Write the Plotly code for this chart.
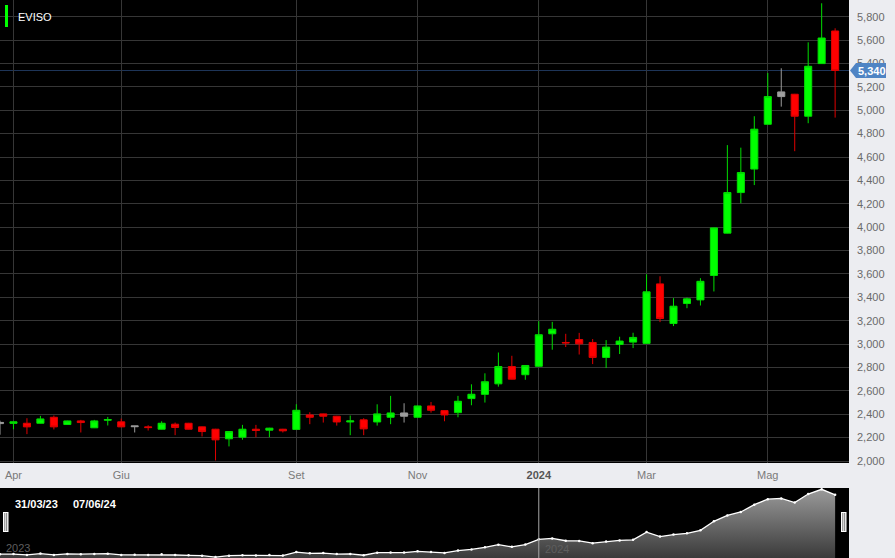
import plotly.graph_objects as go
import pandas as pd

# ---------------- data (weekly candles, Friday dates) ----------------
dates = pd.date_range("2023-03-31", periods=63, freq="7D")

opens = [2320, 2322, 2323, 2323, 2374, 2312, 2343, 2284, 2349, 2335,
         2301, 2292, 2272, 2315, 2323, 2292, 2272, 2190, 2204, 2272,
         2264, 2272, 2270, 2394, 2403, 2383, 2334, 2352, 2334, 2374,
         2383, 2374, 2471, 2431, 2414, 2534, 2570, 2660, 2808, 2738,
         2810, 3088, 3014, 3039, 3014, 2886, 2997, 3017, 3006, 3515,
         3176, 3347, 3378, 3587, 3949, 4296, 4497, 4880, 5117, 5137,
         4949, 5399, 5678]
highs = [2345, 2336, 2366, 2386, 2389, 2345, 2352, 2352, 2377, 2363,
         2301, 2306, 2340, 2329, 2326, 2295, 2275, 2255, 2309, 2309,
         2284, 2275, 2486, 2417, 2405, 2386, 2389, 2366, 2485, 2557,
         2494, 2474, 2505, 2434, 2557, 2656, 2750, 2928, 2900, 2820,
         3196, 3190, 3088, 3096, 3043, 3034, 3063, 3097, 3597, 3580,
         3393, 3398, 3564, 3996, 4702, 4680, 4949, 5319, 5359, 5140,
         5581, 5915, 5701]
lows = [2225, 2272, 2230, 2321, 2270, 2310, 2244, 2282, 2304, 2290,
        2244, 2261, 2270, 2221, 2270, 2210, 2005, 2125, 2182, 2204,
        2204, 2244, 2265, 2315, 2329, 2303, 2221, 2221, 2303, 2315,
        2329, 2371, 2414, 2340, 2374, 2477, 2500, 2636, 2698, 2695,
        2806, 2952, 2975, 2911, 2829, 2795, 2915, 2966, 3000, 3188,
        3154, 3307, 3330, 3450, 3947, 4205, 4360, 4878, 5031, 4650,
        4889, 5397, 4937]
closes = [2330, 2335, 2292, 2360, 2292, 2343, 2329, 2343, 2354, 2292,
          2294, 2286, 2323, 2287, 2272, 2252, 2181, 2252, 2272, 2261,
          2281, 2258, 2434, 2374, 2383, 2334, 2343, 2275, 2403, 2411,
          2411, 2471, 2434, 2394, 2511, 2571, 2678, 2808, 2700, 2817,
          3080, 3127, 3010, 3002, 2886, 2974, 3026, 3057, 3447, 3219,
          3324, 3387, 3537, 3994, 4296, 4467, 4838, 5117, 5157, 4949,
          5376, 5618, 5340]
gray_idx = [0, 10, 30, 58]          # unchanged weeks drawn in grey

tick_dates = ["2023-04-07", "2023-06-02", "2023-09-01", "2023-11-03",
              "2024-01-05", "2024-03-01", "2024-05-03"]
tick_text = ["Apr", "Giu", "Set", "Nov",
             "<span style='color:#555'><b>2024</b></span>", "Mar", "Mag"]
y_ticks = list(range(2000, 5801, 200))
last_price = 5340
title = "EVISO"
nav_start_label = "31/03/23"
nav_end_label = "07/06/24"

# ---------------- geometry helpers ----------------
W, H = 895, 558
PW = 849            # plot width in px
MAIN_BOTTOM = 463   # px
NAV_TOP = 488       # px


def px(x):
    return x / PW


def py(y):
    return 1 - y / H


FONT = "Liberation Sans, Arial, Helvetica, sans-serif"

col_idx = [i for i in range(len(dates)) if i not in gray_idx]

fig = go.Figure()

fig.add_trace(go.Candlestick(
    x=[dates[i] for i in col_idx],
    open=[opens[i] for i in col_idx],
    high=[highs[i] for i in col_idx],
    low=[lows[i] for i in col_idx],
    close=[closes[i] for i in col_idx],
    increasing=dict(fillcolor="#00FF00", line=dict(color="#00DD00", width=1)),
    decreasing=dict(fillcolor="#FF0000", line=dict(color="#E00000", width=1)),
    whiskerwidth=0,
    xaxis="x", yaxis="y", name=title, hoverinfo="skip",
))
fig.add_trace(go.Candlestick(
    x=[dates[i] for i in gray_idx],
    open=[opens[i] for i in gray_idx],
    high=[highs[i] for i in gray_idx],
    low=[lows[i] for i in gray_idx],
    close=[closes[i] for i in gray_idx],
    increasing=dict(fillcolor="#A0A0A0", line=dict(color="#9A9A9A", width=1)),
    decreasing=dict(fillcolor="#A0A0A0", line=dict(color="#9A9A9A", width=1)),
    whiskerwidth=0,
    xaxis="x", yaxis="y", name=title, hoverinfo="skip",
))

# navigator
NAV_RANGE = [2135, 5684]
fig.add_trace(go.Scatter(
    x=dates, y=closes, mode="lines+markers",
    line=dict(color="#FFFFFF", width=1.3),
    marker=dict(size=2.5, color="#FFFFFF"),
    fill="tozeroy",
    fillgradient=dict(type="vertical", start=NAV_RANGE[0], stop=NAV_RANGE[1],
                      colorscale=[[0, "#3A3A3A"], [1, "#9C9C9C"]]),
    xaxis="x2", yaxis="y2", hoverinfo="skip",
))

x_range = ["2023-03-31", "2024-06-14 05:00"]

fig.update_layout(
    width=W, height=H,
    autosize=False,
    margin=dict(l=0, r=W - PW, t=0, b=0, pad=0, autoexpand=False),
    paper_bgcolor="#ECEDF1",
    plot_bgcolor="#000000",
    showlegend=False,
    boxgap=0.25,
    font=dict(family=FONT),
    xaxis=dict(
        domain=[0, 1], anchor="y", type="date", range=x_range,
        rangeslider=dict(visible=False), automargin=False,
        tickmode="array", tickvals=tick_dates, ticktext=tick_text,
        showgrid=True, gridcolor="#363636", gridwidth=1,
        ticks="", ticklabelstandoff=4,
        tickfont=dict(size=11, color="#7A7A7A", family=FONT),
        zeroline=False, showline=False,
    ),
    yaxis=dict(
        domain=[py(MAIN_BOTTOM), 1], anchor="x", range=[1983, 5943],
        side="right", tickmode="array", tickvals=y_ticks, tickformat=",d",
        showgrid=True, gridcolor="#363636", gridwidth=1, automargin=False,
        ticks="", ticklabelstandoff=7,
        tickfont=dict(size=11, color="#6A6A6A", family=FONT),
        zeroline=False, showline=False,
    ),
    xaxis2=dict(domain=[0, 1], anchor="y2", type="date", range=x_range,
                showgrid=False, showticklabels=False, ticks="", automargin=False,
                zeroline=False, showline=False),
    yaxis2=dict(domain=[0, py(NAV_TOP)], anchor="x2", range=NAV_RANGE,
                showgrid=False, showticklabels=False, ticks="", automargin=False,
                zeroline=False, showline=False),
)

shapes = []
annotations = []

# last price line + marker
shapes.append(dict(type="line", xref="paper", yref="y", x0=0, x1=1,
                   y0=last_price, y1=last_price, layer="between",
                   line=dict(color="#1E3558", width=1)))
shapes.append(dict(type="path", xref="paper", yref="y",
                   xsizemode="pixel", ysizemode="pixel",
                   xanchor=1, yanchor=last_price,
                   path="M 1 0 L 7 -7.5 L 37 -7.5 L 37 7.5 L 7 7.5 Z",
                   fillcolor="#4F84C4", line=dict(width=0), layer="above"))
annotations.append(dict(xref="paper", yref="y", x=px(871.5), y=last_price,
                        text="<b>%s</b>" % f"{last_price:,}", showarrow=False,
                        xanchor="center", yanchor="middle",
                        font=dict(size=11, color="#FFFFFF", family=FONT)))

# title marker
shapes.append(dict(type="rect", xref="paper", yref="paper",
                   x0=px(5), x1=px(8), y0=py(5), y1=py(27),
                   fillcolor="#00FF00", line=dict(width=0), layer="above"))
annotations.append(dict(xref="paper", yref="paper", x=px(16), y=py(17),
                        text=title, showarrow=False, xanchor="left", yanchor="middle",
                        font=dict(size=11, color="#FFFFFF", family=FONT)))

# navigator decorations
shapes.append(dict(type="line", xref="x2", yref="paper",
                   x0="2024-01-05", x1="2024-01-05", y0=0, y1=py(NAV_TOP),
                   line=dict(color="#A8A8A8", width=1), layer="above"))
for hx in (3, 841):
    shapes.append(dict(type="rect", xref="paper", yref="paper",
                       x0=px(hx), x1=px(hx + 5.5), y0=py(512), y1=py(532),
                       fillcolor="#FFFFFF", line=dict(width=0), layer="above"))
    for lx in (hx + 1.8, hx + 3.7):
        shapes.append(dict(type="line", xref="paper", yref="paper",
                           x0=px(lx), x1=px(lx), y0=py(513), y1=py(531),
                           line=dict(color="#555555", width=0.8), layer="above"))

annotations.append(dict(xref="paper", yref="paper", x=px(12.5), y=py(504),
                        text="<b>%s</b>" % nav_start_label, showarrow=False,
                        xanchor="left", yanchor="middle",
                        font=dict(size=11, color="#FFFFFF", family=FONT)))
annotations.append(dict(xref="paper", yref="paper", x=px(70.5), y=py(504),
                        text="<b>%s</b>" % nav_end_label, showarrow=False,
                        xanchor="left", yanchor="middle",
                        font=dict(size=11, color="#FFFFFF", family=FONT)))
annotations.append(dict(xref="paper", yref="paper", x=px(3.5), y=py(548),
                        text="2023", showarrow=False, xanchor="left", yanchor="middle",
                        font=dict(size=11, color="#5E5E5E", family=FONT)))
annotations.append(dict(xref="paper", yref="paper", x=px(542.5), y=py(549),
                        text="2024", showarrow=False, xanchor="left", yanchor="middle",
                        font=dict(size=11, color="#5E5E5E", family=FONT)))

fig.update_layout(shapes=shapes, annotations=annotations)

fig.write_html("out.html")
